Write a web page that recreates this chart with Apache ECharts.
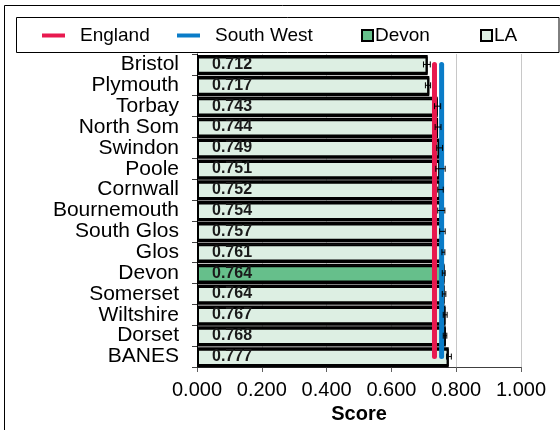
<!DOCTYPE html>
<html><head><meta charset="utf-8">
<script src="https://cdn.jsdelivr.net/npm/echarts@6/dist/echarts.min.js"></script>
<style>html,body{margin:0;padding:0;background:#fff}#c{width:560px;height:430px}</style>
</head><body><div id="c"></div>
<script>
var categories = ['Bristol','Plymouth','Torbay','North Som','Swindon','Poole','Cornwall','Bournemouth','South Glos','Glos','Devon','Somerset','Wiltshire','Dorset','BANES'];
var scores = [0.712,0.717,0.743,0.744,0.749,0.751,0.752,0.754,0.757,0.761,0.764,0.764,0.767,0.768,0.777];
var lowerCI = [0.699,0.705,0.733,0.735,0.740,0.737,0.743,0.743,0.749,0.756,0.757,0.757,0.760,0.760,0.770];
var upperCI = [0.720,0.721,0.752,0.753,0.758,0.766,0.760,0.765,0.766,0.765,0.766,0.768,0.772,0.771,0.785];
var highlight = 'Devon';
var englandValue = 0.733;
var southWestValue = 0.755;
var xTicks = [0, 0.2, 0.4, 0.6, 0.8, 1.0];

var FONT = '"Liberation Sans", Arial, sans-serif';
var laData = categories.map(function(c,i){ return c === highlight ? null : scores[i]; });
var devonData = categories.map(function(c,i){ return c === highlight ? scores[i] : null; });
var errData = categories.map(function(c,i){ return [lowerCI[i], upperCI[i], i]; });
var barLabel = {show:true, position:[15,'50%'], align:'left', verticalAlign:'middle',
  fontFamily:FONT, fontWeight:'bold', fontSize:16, color:'#1a1a1a',
  formatter:function(p){ return p.value == null ? '' : Number(p.value).toFixed(3); }};
var barStyleBase = {borderColor:'#000', borderWidth:2, shadowColor:'#000', shadowOffsetY:1.5, shadowBlur:0};

var chart = echarts.init(document.getElementById('c'), null, {renderer:'canvas'});
chart.setOption({
  animation:false,
  textStyle:{fontFamily:FONT},
  grid:{left:197, right:39, top:54, height:313, containLabel:false},
  legend:[
    {data:['England'], left:42, top:26, padding:0, icon:'rect', itemWidth:23, itemHeight:4,
     textStyle:{fontSize:19, color:'#000', padding:[0,0,0,10]}},
    {data:['South West'], left:177, top:26, padding:0, icon:'rect', itemWidth:23, itemHeight:4,
     textStyle:{fontSize:19, color:'#000', padding:[0,0,0,10]}},
    {data:['Devon'], left:361, top:26, padding:0, icon:'rect', itemWidth:11, itemHeight:11,
     textStyle:{fontSize:19, color:'#000', padding:[0,0,0,-3]}},
    {data:['LA'], left:480, top:26, padding:0, icon:'rect', itemWidth:11, itemHeight:11,
     textStyle:{fontSize:19, color:'#000', padding:[0,0,0,-3]}}
  ],
  xAxis:{type:'value', min:0, max:1, interval:0.2,
    axisLine:{show:true, lineStyle:{color:'#404040', width:1}},
    axisTick:{show:true, length:5, lineStyle:{color:'#606060'}},
    axisLabel:{fontSize:20, color:'#000', margin:13, formatter:function(v){return v.toFixed(3);}},
    splitLine:{show:true, lineStyle:{color:'#c8c8c8', width:1}},
    name:'Score', nameLocation:'middle', nameGap:32,
    nameTextStyle:{fontSize:20, fontWeight:'bold', color:'#000'}},
  yAxis:{type:'category', data:categories, inverse:true,
    axisLine:{show:true, lineStyle:{color:'#000', width:1}},
    axisTick:{show:true, length:5, interval:0, lineStyle:{color:'#404040'}},
    axisLabel:{fontSize:21, color:'#000', margin:18, interval:0}},
  graphic:[
    {type:'rect', shape:{x:4.5, y:5.5, width:700, height:600}, style:{fill:null, stroke:'#000', lineWidth:1}, silent:true, z:-1},
    {type:'rect', shape:{x:16.5, y:17.5, width:542.5, height:35}, style:{fill:'#fff', stroke:'#000', lineWidth:1}, silent:true, z:-1}
  ],
  series:[
    {name:'LA', type:'bar', data:laData, barCategoryGap:'10%', barGap:'-100%',
     itemStyle:Object.assign({color:'#ddefe3'}, barStyleBase), label:barLabel, z:2},
    {name:'Devon', type:'bar', data:devonData, barCategoryGap:'10%', barGap:'-100%',
     itemStyle:Object.assign({color:'#66bf8b'}, barStyleBase), label:barLabel, z:2},
    {name:'England', type:'line', showSymbol:false, symbol:'none', color:'#e8194f',
     data:[[englandValue, categories[0]],[englandValue, categories[categories.length-1]]],
     lineStyle:{width:5, color:'#e8194f', cap:'round'}, z:3},
    {name:'South West', type:'line', showSymbol:false, symbol:'none', color:'#0a7cc8',
     data:[[southWestValue, categories[0]],[southWestValue, categories[categories.length-1]]],
     lineStyle:{width:5, color:'#0a7cc8', cap:'round'}, z:3},
    {name:'CI', type:'custom', z:4, data:errData, encode:{x:[0,1], y:2},
     renderItem:function(params, api){
       var lo = api.coord([api.value(0), api.value(2)]);
       var hi = api.coord([api.value(1), api.value(2)]);
       var h = 3;
       var st = {stroke:'#000', lineWidth:1};
       return {type:'group', children:[
         {type:'line', shape:{x1:lo[0], y1:lo[1], x2:hi[0], y2:hi[1]}, style:st},
         {type:'line', shape:{x1:lo[0], y1:lo[1]-h, x2:lo[0], y2:lo[1]+h}, style:st},
         {type:'line', shape:{x1:hi[0], y1:hi[1]-h, x2:hi[0], y2:hi[1]+h}, style:st}
       ]};
     }}
  ]
});
</script></body></html>
